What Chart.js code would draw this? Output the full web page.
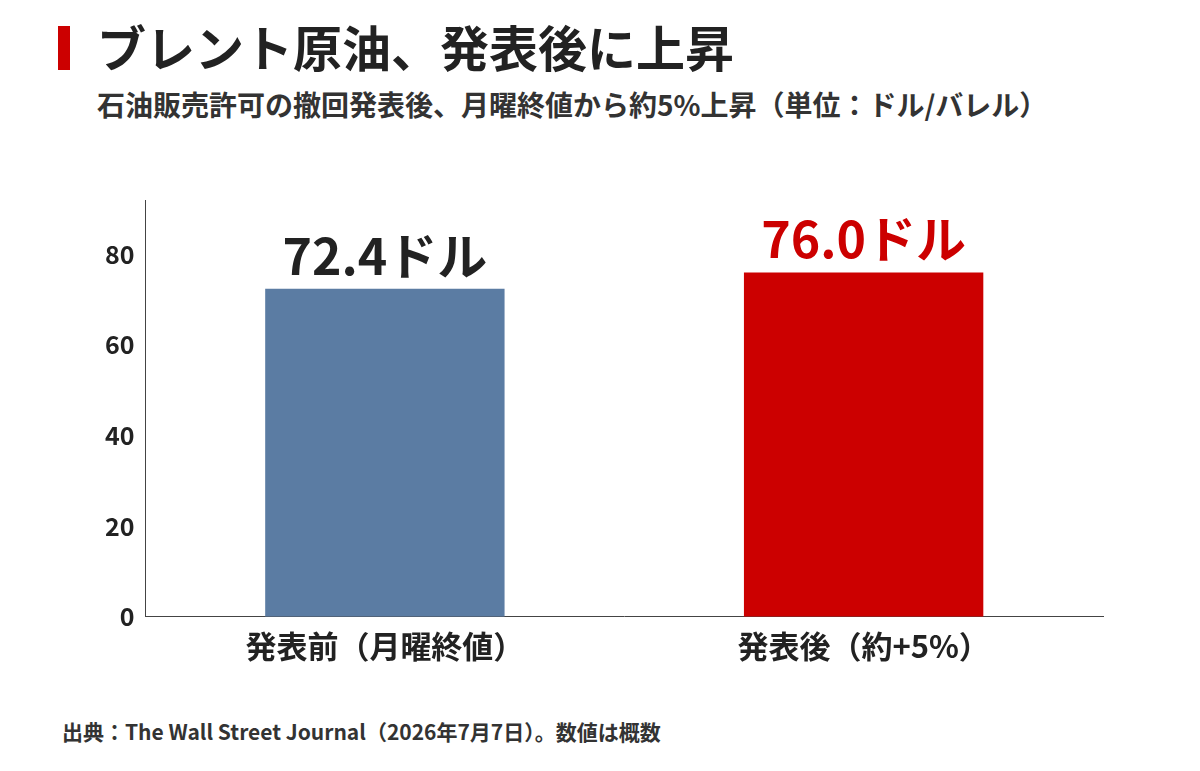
<!DOCTYPE html>
<html><head><meta charset="utf-8">
<script src="https://cdn.jsdelivr.net/npm/chart.js@4"></script>
<style>
body{margin:0;background:#fff;font-family:"Noto Sans CJK JP","Noto Sans",sans-serif;}
#wrap{position:relative;width:1200px;height:771px;overflow:hidden;}
#bar{position:absolute;left:58px;top:26px;width:12px;height:44px;background:#cc0000;}
#title{position:absolute;left:97px;top:10px;font-size:49px;font-weight:700;color:#222;}
#sub{position:absolute;left:97px;top:84px;font-size:28px;font-weight:700;color:#333;}
#src{position:absolute;left:62px;top:716px;font-size:21px;font-weight:700;color:#333;}
#box{position:absolute;left:0;top:150px;width:1200px;height:540px;}
</style></head><body>
<div id="wrap">
<div id="bar"></div>
<div id="title">ブレント原油、発表後に上昇</div>
<div id="sub">石油販売許可の撤回発表後、月曜終値から約5%上昇（単位：ドル/バレル）</div>
<div id="box"><canvas id="c"></canvas></div>
<div id="src">出典：The Wall Street Journal（2026年7月7日）。数値は概数</div>
</div>
<script>
const categories = ["発表前（月曜終値）", "発表後（約+5%）"];
const values = [72.4, 76.0];
const valueLabels = ["72.4ドル", "76.0ドル"];
const yTicks = [0, 20, 40, 60, 80];
const barColors = ["#5b7ca3", "#cc0000"];
const labelColors = ["#222222", "#cc0000"];

const valueLabelPlugin = {
  id: 'valueLabels',
  afterDatasetsDraw(chart) {
    const ctx = chart.ctx;
    const meta = chart.getDatasetMeta(0);
    ctx.save();
    ctx.font = 'bold 50px "Noto Sans CJK JP", sans-serif';
    ctx.textAlign = 'center';
    ctx.textBaseline = 'bottom';
    meta.data.forEach((bar, i) => {
      ctx.fillStyle = labelColors[i];
      ctx.fillText(valueLabels[i], bar.x, bar.y - 8);
    });
    ctx.restore();
  }
};

new Chart(document.getElementById('c'), {
  type: 'bar',
  data: {
    labels: categories,
    datasets: [{ data: values, backgroundColor: barColors, barPercentage: 0.5, categoryPercentage: 1 }]
  },
  options: {
    responsive: true,
    maintainAspectRatio: false,
    animation: false,
    layout: { padding: { top: 50, left: 102, right: 97, bottom: 22 } },
    plugins: { legend: { display: false }, tooltip: { enabled: false } },
    scales: {
      y: {
        min: 0, max: 92,
        afterBuildTicks: (axis) => { axis.ticks = yTicks.map(v => ({ value: v })); },
        ticks: { color: '#222', font: { size: 25, weight: 'bold', family: '"Noto Sans CJK JP", sans-serif' } },
        grid: { display: false },
        border: { color: '#444' }
      },
      x: {
        ticks: { color: '#222', font: { size: 31, weight: 'bold', family: '"Noto Sans CJK JP", sans-serif' } },
        grid: { display: false },
        border: { color: '#444' }
      }
    }
  },
  plugins: [valueLabelPlugin]
});
</script>
</body></html>
